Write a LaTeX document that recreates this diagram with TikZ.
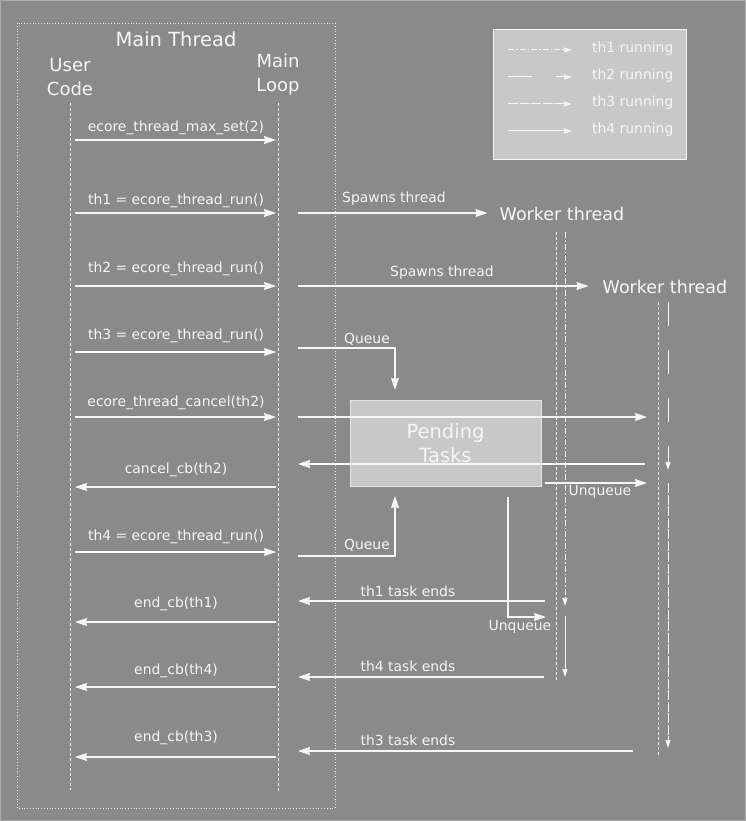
\documentclass[tikz,border=0pt]{standalone}
\usepackage{fontspec}
\setmainfont{DejaVu Sans}
\usetikzlibrary{arrows.meta}
\definecolor{bg}{HTML}{8A8A8A}
\definecolor{panel}{HTML}{C8C8C8}
\definecolor{ink}{HTML}{F6F6F6}

\begin{document}
\begin{tikzpicture}[x=1pt,y=-1pt,
  msg/.style={ink,line width=1.1pt,-{Stealth[length=12pt,width=8pt,inset=1pt]}},
  lbl/.style={text=ink,font=\fontsize{13.9}{15}\selectfont,inner sep=0pt},
  big/.style={text=ink,font=\fontsize{18}{24}\selectfont,align=center,inner sep=0pt},
  life/.style={ink,line width=0.9pt,dash pattern=on 3pt off 2pt},
  run/.style={ink,line width=1pt,-{Stealth[length=8pt,width=5pt,inset=0.5pt]}},
  thone/.style={run,dash pattern=on 6pt off 2pt on 1.5pt off 2pt},
  thtwo/.style={run,dash pattern=on 24pt off 24pt},
  ththree/.style={run,dash pattern=on 10pt off 1.5pt},
  thfour/.style={run}]
  \useasboundingbox (0,0) rectangle (746,821);
  \fill[bg] (0,0) rectangle (746,821);
  \draw[white!30!bg,line width=2pt] (0,0) rectangle (746,821);

  % main thread frame
  \draw[ink!85!bg,dotted,line width=0.8pt] (17,23) rectangle (335,808);
  \node[big,font=\fontsize{19.5}{24}\selectfont] (mt) at (176,39) {Main Thread};
  \node[big] (uc) at (70,77) {User\\Code};
  \node[big] (ml) at (278,75) {Main\\Loop};

  % lifelines
  \coordinate (uctop) at (70,103);  \coordinate (ucbot) at (70,790);
  \coordinate (mltop) at (278,103); \coordinate (mlbot) at (278,793);
  \draw[life] (uctop) -- (ucbot);
  \draw[life] (mltop) -- (mlbot);

  % legend
  \node[fill=panel,draw=ink,line width=0.8pt,minimum width=193pt,minimum height=130pt] (key) at (589.5,94.5) {};
  \coordinate (k1a) at (508,50);  \coordinate (k1b) at (572,50);
  \coordinate (k2a) at (508,77);  \coordinate (k2b) at (572,77);
  \coordinate (k3a) at (508,104); \coordinate (k3b) at (572,104);
  \coordinate (k4a) at (508,131); \coordinate (k4b) at (572,131);
  \draw[thone] (k1a) -- (k1b);
  \draw[thtwo] (k2a) -- (k2b);
  \draw[ththree] (k3a) -- (k3b);
  \draw[thfour] (k4a) -- (k4b);
  \node[lbl,anchor=west] (k1) at (592,49) {th1 running};
  \node[lbl,anchor=west] (k2) at (592,76) {th2 running};
  \node[lbl,anchor=west] (k3) at (592,103) {th3 running};
  \node[lbl,anchor=west] (k4) at (592,130) {th4 running};

  % user code <-> main loop
  \foreach \r/\y in {1/140,2/213,3/286,4/352,5/417,6/487,7/552,8/622,9/687,10/757}{
    \coordinate (u\r) at (75,\y);
    \coordinate (m\r) at (276,\y);
  }
  \draw[msg] (u1) -- (m1);
  \node[lbl] (c1) at (176,128) {ecore\_thread\_max\_set(2)};
  \draw[msg] (u2) -- (m2);
  \node[lbl] (c2) at (176,201) {th1 = ecore\_thread\_run()};
  \draw[msg] (u3) -- (m3);
  \node[lbl] (c3) at (176,269) {th2 = ecore\_thread\_run()};
  \draw[msg] (u4) -- (m4);
  \node[lbl] (c4) at (176,336) {th3 = ecore\_thread\_run()};
  \draw[msg] (u5) -- (m5);
  \node[lbl] (c5) at (176,403) {ecore\_thread\_cancel(th2)};
  \draw[msg] (m6) -- (u6);
  \node[lbl] (c6) at (176,470) {cancel\_cb(th2)};
  \draw[msg] (u7) -- (m7);
  \node[lbl] (c7) at (176,537) {th4 = ecore\_thread\_run()};
  \draw[msg] (m8) -- (u8);
  \node[lbl] (c8) at (176,604) {end\_cb(th1)};
  \draw[msg] (m9) -- (u9);
  \node[lbl] (c9) at (176,671) {end\_cb(th4)};
  \draw[msg] (m10) -- (u10);
  \node[lbl] (c10) at (176,738) {end\_cb(th3)};

  % worker threads
  \node[big,font=\fontsize{17.5}{22}\selectfont] (wt1) at (562,214) {Worker thread};
  \node[big,font=\fontsize{17.5}{22}\selectfont] (wt2) at (665,287) {Worker thread};
  \coordinate (sp1) at (298,213);
  \coordinate (sp2) at (298,286);
  \draw[msg,shorten >=12pt] (sp1) -- (wt1.west |- sp1);
  \node[lbl] (s1) at (394,199) {Spawns thread};
  \draw[msg,shorten >=14pt] (sp2) -- (wt2.west |- sp2);
  \node[lbl] (s2) at (442,273) {Spawns thread};

  \coordinate (w1top) at (556,232); \coordinate (w1bot) at (556,680);
  \coordinate (w2top) at (658,302); \coordinate (w2bot) at (658,757);
  \draw[life] (w1top) -- (w1bot);
  \draw[life] (w2top) -- (w2bot);
  \coordinate (r1a) at (565,232); \coordinate (r1b) at (565,606);
  \coordinate (r4a) at (565,616); \coordinate (r4b) at (565,677);
  \coordinate (r2a) at (668,302); \coordinate (r2b) at (668,470);
  \coordinate (r3a) at (668,483); \coordinate (r3b) at (668,748);
  \draw[thone] (r1a) -- (r1b);
  \draw[thfour] (r4a) -- (r4b);
  \draw[thtwo] (r2a) -- (r2b);
  \draw[ththree] (r3a) -- (r3b);

  % pending tasks queue
  \node[fill=panel,draw=ink!60!panel,line width=0.8pt,minimum width=191pt,minimum height=86pt,
        big,font=\fontsize{19.5}{24}\selectfont] (pend) at (445.5,443) {Pending\\Tasks};
  \coordinate (q1a) at (298,348); \coordinate (q1b) at (395,390);
  \draw[msg] (q1a) -| (q1b);
  \node[lbl] (q1) at (367,339) {Queue};
  \coordinate (q2a) at (298,556); \coordinate (q2b) at (395,496);
  \draw[msg] (q2a) -| (q2b);
  \node[lbl] (q2) at (367,545) {Queue};

  % cancel of th2
  \coordinate (ca) at (298,417); \coordinate (cb) at (647,417);
  \draw[msg] (ca) -- (cb);
  \coordinate (cc) at (645,464); \coordinate (cd) at (298,464);
  \draw[msg] (cc) -- (cd);
  \coordinate (uq1a) at (545,483); \coordinate (uq1b) at (647,483);
  \draw[msg] (uq1a) -- (uq1b);
  \node[lbl] (uq1) at (600,492) {Unqueue};
  \coordinate (uq2a) at (508,497); \coordinate (uq2b) at (546,617);
  \draw[msg] (uq2a) |- (uq2b);
  \node[lbl] (uq2) at (520,627) {Unqueue};

  % tasks ending
  \coordinate (e1a) at (545,601); \coordinate (e1b) at (298,601);
  \draw[msg] (e1a) -- (e1b);
  \node[lbl] (e1) at (408,591) {th1 task ends};
  \coordinate (e4a) at (544,677); \coordinate (e4b) at (298,677);
  \draw[msg] (e4a) -- (e4b);
  \node[lbl] (e4) at (408,666) {th4 task ends};
  \coordinate (e3a) at (633,751); \coordinate (e3b) at (298,751);
  \draw[msg] (e3a) -- (e3b);
  \node[lbl] (e3) at (408,740) {th3 task ends};
\end{tikzpicture}
\end{document}
